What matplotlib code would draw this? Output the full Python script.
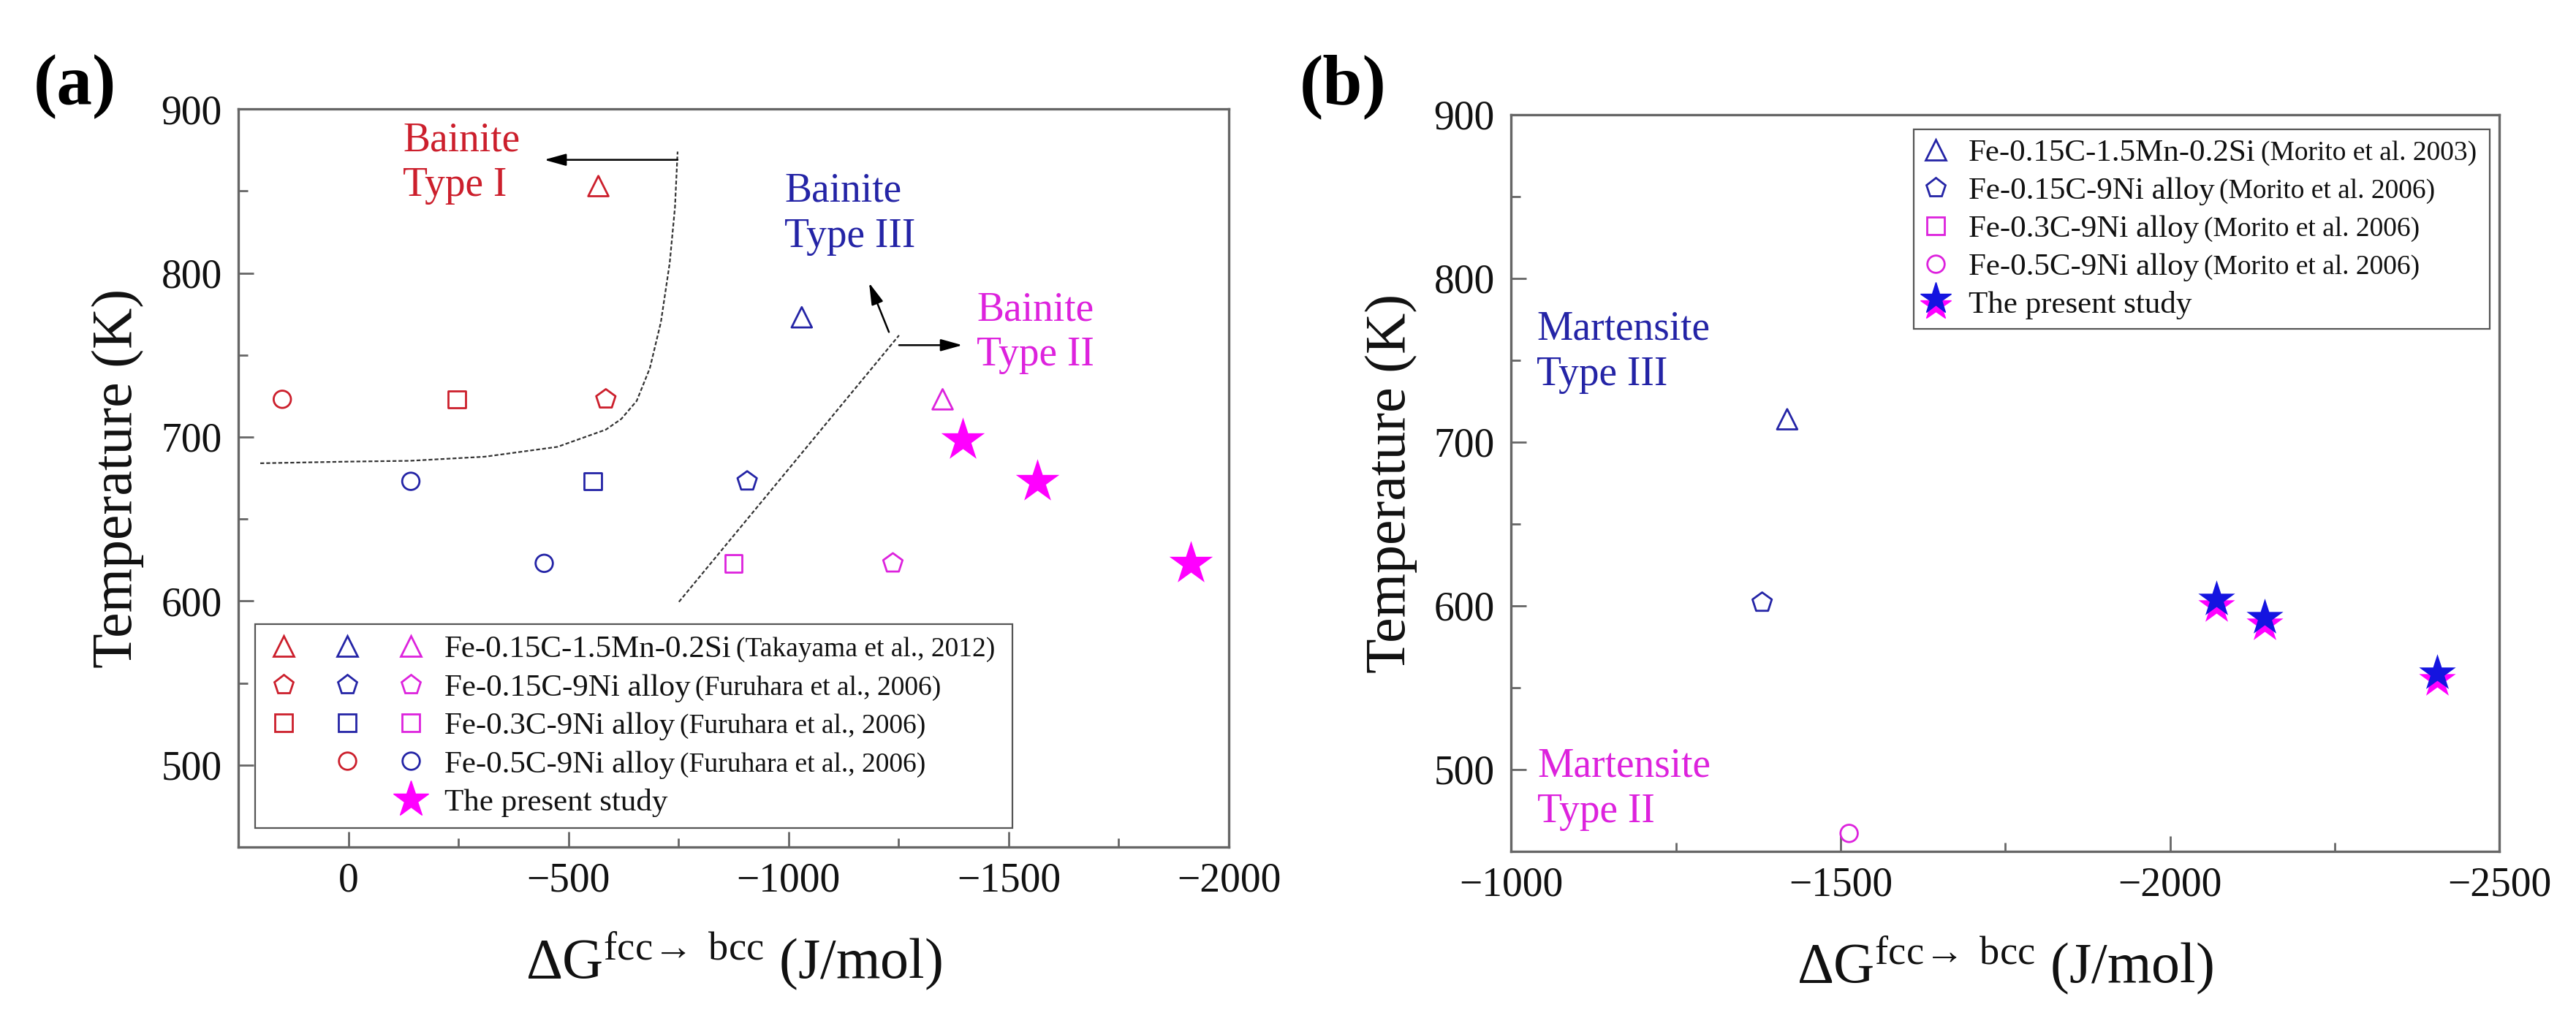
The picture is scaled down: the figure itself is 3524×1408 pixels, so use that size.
import matplotlib as mpl
mpl.use('Agg')
import matplotlib.pyplot as plt
from matplotlib.lines import Line2D
from matplotlib.legend_handler import HandlerTuple
from matplotlib.markers import MarkerStyle
from matplotlib.ticker import MultipleLocator
from matplotlib.transforms import Affine2D

plt.rcParams['font.family'] = ['Liberation Serif', 'DejaVu Serif']
plt.rcParams['mathtext.fontset'] = 'custom'
plt.rcParams['mathtext.rm'] = 'Liberation Serif'
plt.rcParams['mathtext.it'] = 'Liberation Serif:italic'
plt.rcParams['mathtext.bf'] = 'Liberation Serif:bold'
plt.rcParams['axes.unicode_minus'] = True

RED = '#cc1f2c'
BLUE = '#2424a6'
MAG = '#dd22dd'
MAGF = '#ff00ff'
BLUEF = '#1414e0'
SPINE = '#666666'

# ---- panel (a) data: dG (J/mol), T (K) ----
tri_dg = [-568, -1030, -1350]
tri_T = [853, 773, 723]
tri_col = [RED, BLUE, MAG]
pent_dg = [-585, -906, -1237]
pent_T = [723, 673, 623]
pent_col = [RED, BLUE, MAG]
sq_dg = [-247, -555, -875]
sq_T = [723, 673, 623]
sq_col = [RED, BLUE, MAG]
circ_dg = [150, -142, -445]
circ_T = [723, 673, 623]
circ_col = [RED, BLUE, BLUE]
star_dg = [-1396, -1565, -1914]
star_T = [698, 673, 623]

# boundary guides
bound1_dg = [200, 0, -140, -310, -475, -585, -620, -655, -685, -710, -730, -742, -748]
bound1_T = [684, 685, 685.5, 688, 694, 704.5, 711, 722, 742, 770, 806, 840, 874]
bound2_dg = [-751, -1251]
bound2_T = [599.5, 762]

# ---- panel (b) data ----
b_tri_dg = [-1419]
b_tri_T = [714]
b_pent_dg = [-1381]
b_pent_T = [602]
b_circ_dg = [-1513]
b_circ_T = [461]
b_star_dg = [-2070, -2144, -2405]
b_star_blue_T = [604, 593, 559]
b_star_mag_T = [600, 589, 555]

labels_a = ['Fe-0.15C-1.5Mn-0.2Si', 'Fe-0.15C-9Ni alloy', 'Fe-0.3C-9Ni alloy',
            'Fe-0.5C-9Ni alloy', 'The present study']
cites_a = ['(Takayama et al., 2012)', '(Furuhara et al., 2006)', '(Furuhara et al., 2006)',
           '(Furuhara et al., 2006)', '']
labels_b = ['Fe-0.15C-1.5Mn-0.2Si', 'Fe-0.15C-9Ni alloy', 'Fe-0.3C-9Ni alloy',
            'Fe-0.5C-9Ni alloy', 'The present study']
cites_b = ['(Morito et al. 2003)', '(Morito et al. 2006)', '(Morito et al. 2006)',
           '(Morito et al. 2006)', '']

MS = {'^': 20, 'p': 20, 's': 17, 'o': 17}


def style_axes(ax):
    for s in ax.spines.values():
        s.set_color(SPINE)
        s.set_linewidth(2.4)
    ax.tick_params(which='both', direction='in', top=False, right=False,
                   width=2, color=SPINE, labelsize=40, labelcolor='#111111')
    ax.tick_params(which='major', length=15)
    ax.tick_params(which='minor', length=9)
    ax.tick_params(axis='y', pad=16)
    ax.tick_params(axis='x', pad=15)
    ax.yaxis.set_major_locator(MultipleLocator(100))
    ax.yaxis.set_minor_locator(MultipleLocator(50))
    ax.xaxis.set_major_locator(MultipleLocator(500))
    ax.xaxis.set_minor_locator(MultipleLocator(250))
    ax.set_ylim(450, 900)
    ax.set_ylabel('Temperature (K)', fontsize=56, color='#111111')
    ax.set_xlabel('ΔG$^{\\mathrm{fcc\\!\\rightarrow\\ bcc}}$ (J/mol)', fontsize=56, color='#111111')
    ax.yaxis.set_label_coords(-0.095, 0.5)
    ax.xaxis.set_label_coords(0.5, -0.112)


def open_pts(ax, x, y, marker, cols):
    ax.scatter(x, y, s=MS[marker] ** 2, marker=marker, facecolors='none',
               edgecolors=cols, linewidths=2, zorder=3)


def mk(marker, color, ms=None):
    return Line2D([], [], ls='none', marker=marker, mfc='none', mec=color,
                  mew=2, ms=ms or MS[marker])


def add_cites(ax, leg, cites):
    for txt, cite in zip(leg.get_texts(), cites):
        if cite:
            ax.annotate(cite, xy=(1, 0.5), xycoords=txt, xytext=(5, 0),
                        textcoords='offset points', ha='left', va='center',
                        fontsize=27, color='#111111', zorder=10,
                        annotation_clip=False)


fig = plt.figure(figsize=(35.24, 14.08), dpi=100)
ax1 = fig.add_axes([0.0925, 0.1768, 0.3845, 0.7173])
ax2 = fig.add_axes([0.5866, 0.1726, 0.3837, 0.7159])

# ---------------- (a) ----------------
style_axes(ax1)
ax1.set_xlim(250, -2000)

open_pts(ax1, tri_dg, tri_T, '^', tri_col)
open_pts(ax1, pent_dg, pent_T, 'p', pent_col)
open_pts(ax1, sq_dg, sq_T, 's', sq_col)
open_pts(ax1, circ_dg, circ_T, 'o', circ_col)
ax1.scatter(star_dg, star_T, s=45 ** 2, marker='*', color=MAGF, linewidths=0, zorder=4)

dash = dict(color='#333333', lw=1.6, ls=(0, (2.4, 1.3)), zorder=2)
ax1.plot(bound1_dg, bound1_T, **dash)
ax1.plot(bound2_dg, bound2_T, **dash)

arr = dict(arrowstyle='-|>,head_length=0.9,head_width=0.25', color='k', lw=1.8,
           shrinkA=0, shrinkB=0, mutation_scale=20)
ax1.annotate('', xy=(-445, 869), xytext=(-748, 869), arrowprops=arr)
ax1.annotate('', xy=(-1183, 794), xytext=(-1228, 764), arrowprops=arr)
ax1.annotate('', xy=(-1395, 756), xytext=(-1251, 756), arrowprops=arr)

txt_kw = dict(fontsize=40, ha='left', va='center', linespacing=1.25)
ax1.text(-124, 867, 'Bainite\nType I', color=RED, **txt_kw)
ax1.text(-991, 836, 'Bainite\nType III', color=BLUE, **txt_kw)
ax1.text(-1428, 763.5, 'Bainite\nType II', color=MAG, **txt_kw)

blank = Line2D([], [], ls='none')
star_a = Line2D([], [], ls='none', marker='*', mfc=MAGF, mec=MAGF, ms=37)
handles_a = [(mk('^', RED), mk('^', BLUE), mk('^', MAG)),
             (mk('p', RED), mk('p', BLUE), mk('p', MAG)),
             (mk('s', RED), mk('s', BLUE), mk('s', MAG)),
             (blank, mk('o', RED), mk('o', BLUE)),
             (blank, blank, star_a)]
leg1 = ax1.legend(handles_a, labels_a,
                  handler_map={tuple: HandlerTuple(ndivide=None, pad=0.9)},
                  loc='lower left', bbox_to_anchor=(0.017, 0.0257, 0.7645, 0.3),
                  mode='expand', borderaxespad=0, fontsize=31, handlelength=5.16,
                  handletextpad=0.5, borderpad=0.35, labelspacing=0.31,
                  fancybox=False, edgecolor='#555555', framealpha=1)
leg1.get_frame().set_linewidth(1.6)
for t in leg1.get_texts():
    t.set_color('#111111')
add_cites(ax1, leg1, cites_a)

# ---------------- (b) ----------------
style_axes(ax2)
ax2.set_xlim(-1000, -2500)

open_pts(ax2, b_tri_dg, b_tri_T, '^', [BLUE])
open_pts(ax2, b_pent_dg, b_pent_T, 'p', [BLUE])
open_pts(ax2, b_circ_dg, b_circ_T, 'o', [MAG])
ax2.scatter(b_star_dg, b_star_mag_T, s=38 ** 2, marker='*', color=MAGF, linewidths=0, zorder=4)
ax2.scatter(b_star_dg, b_star_blue_T, s=38 ** 2, marker='*', color=BLUEF, linewidths=0, zorder=5)

ax2.text(-1039, 755, 'Martensite\nType III', color=BLUE, **txt_kw)
ax2.text(-1040, 488, 'Martensite\nType II', color=MAG, **txt_kw)

star_bm = Line2D([], [], ls='none', mfc=MAGF, mec=MAGF, ms=32,
                 marker=MarkerStyle('*', transform=Affine2D().translate(0, -0.1)))
star_bb = Line2D([], [], ls='none', mfc=BLUEF, mec=BLUEF, ms=32,
                 marker=MarkerStyle('*', transform=Affine2D().translate(0, 0.1)))
handles_b = [mk('^', BLUE), mk('p', BLUE), mk('s', MAG), mk('o', MAG), (star_bm, star_bb)]
leg2 = ax2.legend(handles_b, labels_b,
                  handler_map={tuple: HandlerTuple(ndivide=1)},
                  loc='upper left', bbox_to_anchor=(0.407, 0.5, 0.583, 0.48),
                  mode='expand', borderaxespad=0, fontsize=31, handlelength=0.8,
                  handletextpad=0.65, borderpad=0.3, labelspacing=0.3,
                  fancybox=False, edgecolor='#555555', framealpha=1)
leg2.get_frame().set_linewidth(1.6)
for t in leg2.get_texts():
    t.set_color('#111111')
add_cites(ax2, leg2, cites_b)

fig.text(0.0292, 0.9155, '(a)', fontsize=70, fontweight='bold', ha='center', va='center')
fig.text(0.5213, 0.9155, '(b)', fontsize=70, fontweight='bold', ha='center', va='center')

fig.savefig('out.png', dpi=100)
